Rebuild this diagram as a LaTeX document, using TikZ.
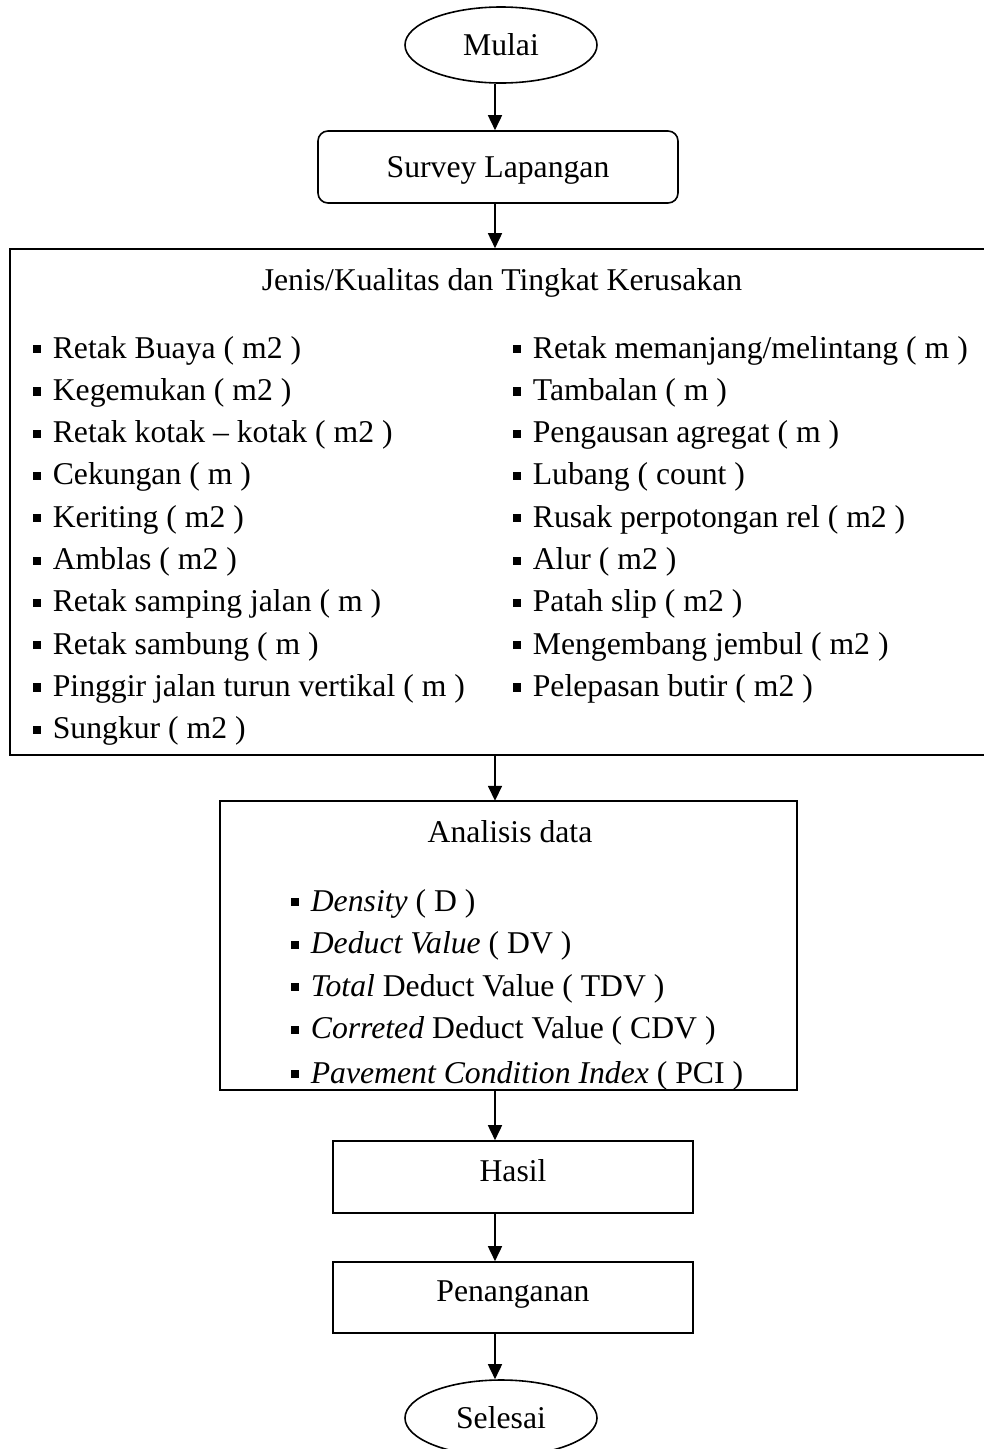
\documentclass[tikz,border=0pt]{standalone}
\usepackage{fontspec}
\setmainfont{Liberation Serif}
\usetikzlibrary{shapes.geometric,arrows.meta}
\newcommand\bul{\rule[0.15em]{0.26em}{0.26em}\hspace{0.36em}}
\begin{document}
\begin{tikzpicture}[x=1pt,y=-1pt,
  every node/.style={font=\fontsize{31.7}{38}\selectfont},
  arr/.style={line width=1.6pt,-{Triangle[width=14pt,length=15pt]}},
  term/.style={draw,line width=1.6pt,ellipse,inner sep=0pt,minimum width=192pt,minimum height=76pt,text height=21pt,text depth=0pt},
  procbox/.style={draw,line width=1.6pt,rectangle,inner sep=0pt,text height=21pt,text depth=13pt},
  item/.style={anchor=base west,inner sep=0pt},
  ttl/.style={anchor=base,inner sep=0pt}]
\useasboundingbox (0,0) rectangle (984,1449);
\coordinate (ax) at (495,0);

\node[term] (mulai) at (501,45) {Mulai};
\node[procbox,rounded corners=10pt,minimum width=360pt,minimum height=72pt,text depth=0pt] (survey) at (498,167) {Survey Lapangan};

\node[draw,line width=1.6pt,rectangle,inner sep=0pt,minimum width=984pt,minimum height=506pt] (jenis) at (502,502) {};
\node[ttl] (jt) at (502,290) {Jenis/Kualitas dan Tingkat Kerusakan};

\foreach \t [count=\i from 0] in {Retak Buaya ( m2 ),Kegemukan ( m2 ),Retak kotak -- kotak ( m2 ),Cekungan ( m ),Keriting ( m2 ),Amblas ( m2 ),Retak samping jalan ( m ),Retak sambung ( m ),Pinggir jalan turun vertikal ( m ),Sungkur ( m2 )}
  \node[item] (l\i) at (33,358+42.3*\i) {\bul\t};
\foreach \t [count=\i from 0] in {Retak memanjang/melintang ( m ),Tambalan ( m ),Pengausan agregat ( m ),Lubang ( count ),Rusak perpotongan rel ( m2 ),Alur ( m2 ),Patah slip ( m2 ),Mengembang jembul ( m2 ),Pelepasan butir ( m2 )}
  \node[item] (r\i) at (513,358+42.3*\i) {\bul\t};

\node[rectangle,inner sep=0pt,minimum width=577pt,minimum height=289pt] (ana) at (508.5,945.5) {};
\node[ttl] (at) at (510,842) {Analisis data};
\begin{scope}
\clip (ana.south west) rectangle (ana.north east);
\node[item] (a0) at (291,911) {\bul\textit{Density} ( D )};
\node[item] (a1) at (291,953.5) {\bul\textit{Deduct Value} ( DV )};
\node[item] (a2) at (291,996) {\bul\textit{Total} Deduct Value ( TDV )};
\node[item] (a3) at (291,1038.5) {\bul\textit{Correted} Deduct Value ( CDV )};
\node[item] (a4) at (291,1083) {\bul\textit{Pavement Condition Index} ( PCI )};
\end{scope}
\draw[line width=1.6pt] (ana.south west) rectangle (ana.north east);

\node[procbox,minimum width=360pt,minimum height=72pt] (hasil) at (513,1177) {Hasil};
\node[procbox,minimum width=360pt,minimum height=71pt] (pen) at (513,1297.5) {Penanganan};
\node[term] (selesai) at (501,1418) {Selesai};

\draw[arr] (mulai.south -| ax) -- (survey.north -| ax);
\draw[arr] (survey.south -| ax) -- (jenis.north -| ax);
\draw[arr] (jenis.south -| ax) -- (ana.north -| ax);
\draw[arr] (ana.south -| ax) -- (hasil.north -| ax);
\draw[arr] (hasil.south -| ax) -- (pen.north -| ax);
\draw[arr] (pen.south -| ax) -- (selesai.north -| ax);
\end{tikzpicture}
\end{document}
